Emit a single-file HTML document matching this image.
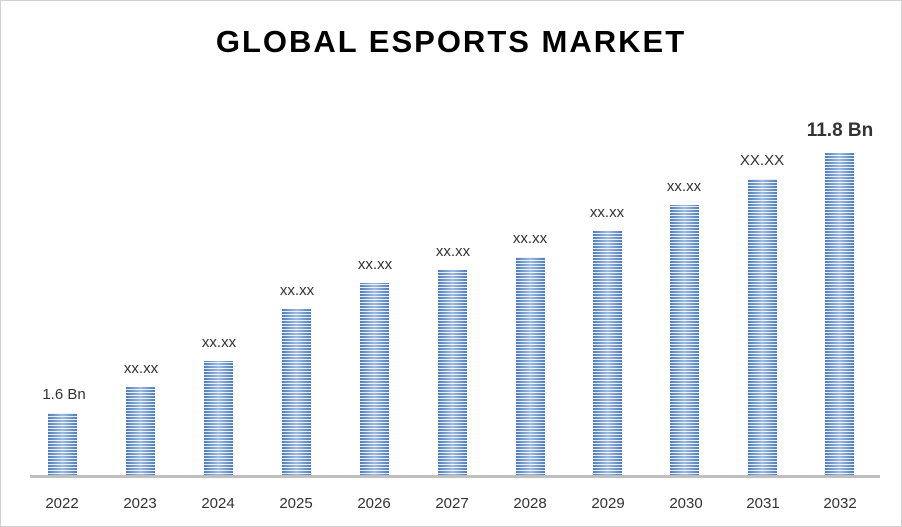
<!DOCTYPE html>
<html><head><style>body{margin:0;background:#fff}svg{display:block}</style></head><body>
<svg width="902" height="527" xmlns="http://www.w3.org/2000/svg" font-family="Liberation Sans, sans-serif">
<defs>
<linearGradient id="g" x1="0" x2="1" y1="0" y2="0">
<stop offset="0" stop-color="#4f7db8"/><stop offset="0.5" stop-color="#9dbbe2"/><stop offset="1" stop-color="#4f7db8"/>
</linearGradient>
<pattern id="p" width="4" height="3" patternUnits="userSpaceOnUse">
<rect y="2" width="4" height="1" fill="#ffffff" opacity="0.85"/>
</pattern>
</defs>
<rect x="0.5" y="0.5" width="901" height="526" fill="#fff" stroke="#d0d0d0"/>
<text x="451" y="52" text-anchor="middle" font-size="31" font-weight="bold" letter-spacing="2" fill="#000">GLOBAL ESPORTS MARKET</text>
<line x1="30" y1="476.5" x2="880" y2="476.5" stroke="#bfbfbf" stroke-width="3"/>
<g font-size="15" fill="#333" text-anchor="middle">
<g fill="url(#g)">
<rect x="48" y="413" width="29" height="62"/>
<rect x="126" y="387" width="29" height="88"/>
<rect x="204" y="361" width="29" height="114"/>
<rect x="282" y="309" width="29" height="166"/>
<rect x="360" y="283" width="29" height="192"/>
<rect x="438" y="270" width="29" height="205"/>
<rect x="516" y="257" width="29" height="218"/>
<rect x="593" y="231" width="29" height="244"/>
<rect x="670" y="205" width="29" height="270"/>
<rect x="748" y="179" width="29" height="296"/>
<rect x="825" y="153" width="29" height="322"/>
</g>
<g fill="url(#p)">
<rect x="48" y="413" width="29" height="62"/>
<rect x="126" y="387" width="29" height="88"/>
<rect x="204" y="361" width="29" height="114"/>
<rect x="282" y="309" width="29" height="166"/>
<rect x="360" y="283" width="29" height="192"/>
<rect x="438" y="270" width="29" height="205"/>
<rect x="516" y="257" width="29" height="218"/>
<rect x="593" y="231" width="29" height="244"/>
<rect x="670" y="205" width="29" height="270"/>
<rect x="748" y="179" width="29" height="296"/>
<rect x="825" y="153" width="29" height="322"/>
</g>
<text x="64" y="399">1.6 Bn</text>
<text x="141" y="373">xx.xx</text>
<text x="219" y="347">xx.xx</text>
<text x="297" y="295">xx.xx</text>
<text x="375" y="269">xx.xx</text>
<text x="453" y="256">xx.xx</text>
<text x="530" y="243">xx.xx</text>
<text x="607" y="217">xx.xx</text>
<text x="684" y="191">xx.xx</text>
<text x="762" y="165">XX.XX</text>
<text x="840" y="136" font-size="19" font-weight="bold" fill="#333">11.8 Bn</text>
<text x="62" y="508">2022</text>
<text x="140" y="508">2023</text>
<text x="218" y="508">2024</text>
<text x="296" y="508">2025</text>
<text x="374" y="508">2026</text>
<text x="452" y="508">2027</text>
<text x="530" y="508">2028</text>
<text x="608" y="508">2029</text>
<text x="686" y="508">2030</text>
<text x="763" y="508">2031</text>
<text x="840" y="508">2032</text>
</g>
</svg>
</body></html>
